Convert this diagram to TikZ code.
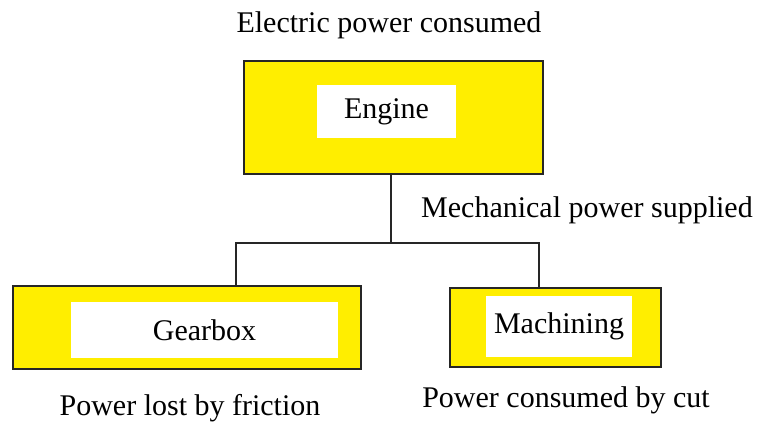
\documentclass[tikz,border=0pt]{standalone}
\usepackage{fontspec}
\setmainfont{Liberation Serif}
\usepackage{tikz}
\usetikzlibrary{positioning}

\definecolor{boxyellow}{RGB}{255,238,0}

\begin{document}
\begin{tikzpicture}[x=1pt, y=-1pt,
    outer/.style={rectangle, draw=black!85, line width=1.4pt, fill=boxyellow, inner sep=0pt},
    inner/.style={rectangle, fill=white, inner sep=0pt, font=\fontsize{30}{34}\selectfont},
    caption/.style={inner sep=0pt, font=\fontsize{30}{34}\selectfont},
    link/.style={draw=black!85, line width=1.4pt}
]
\useasboundingbox (0,0) rectangle (758,423);

% Engine block (top)
\node[outer, minimum width=299pt, minimum height=113pt] (engine) at (393.5,117.5) {};
\node[inner, minimum width=139pt, minimum height=53pt] (engineIn) at (386.5,111.5) {Engine};
\node[caption] (elec) at (389,25) {Electric power consumed};

% Gearbox block (bottom left)
\node[outer, minimum width=348pt, minimum height=83pt] (gearbox) at (187,327.5) {};
\node[inner, minimum width=267pt, minimum height=56pt] (gearboxIn) at (204.5,330) {Gearbox};
\node[caption] (friction) at (190,408) {Power lost by friction};

% Machining block (bottom right)
\node[outer, minimum width=211pt, minimum height=79pt] (machining) at (555.5,327.5) {};
\node[inner, minimum width=146pt, minimum height=61pt] (machiningIn) at (559,326.5) {Machining};
\node[caption] (cut) at (566,400) {Power consumed by cut};

\node[caption, anchor=west] (mech) at (421,210) {Mechanical power supplied};

% Branch lines
\coordinate (split) at (391,243);
\coordinate (gbtap) at (236,0);
\coordinate (mctap) at (539,0);
\draw[link] (engine.south -| split) -- (split);
\draw[link] (split) -| (gearbox.north -| gbtap);
\draw[link] (split) -| (machining.north -| mctap);

\end{tikzpicture}
\end{document}
